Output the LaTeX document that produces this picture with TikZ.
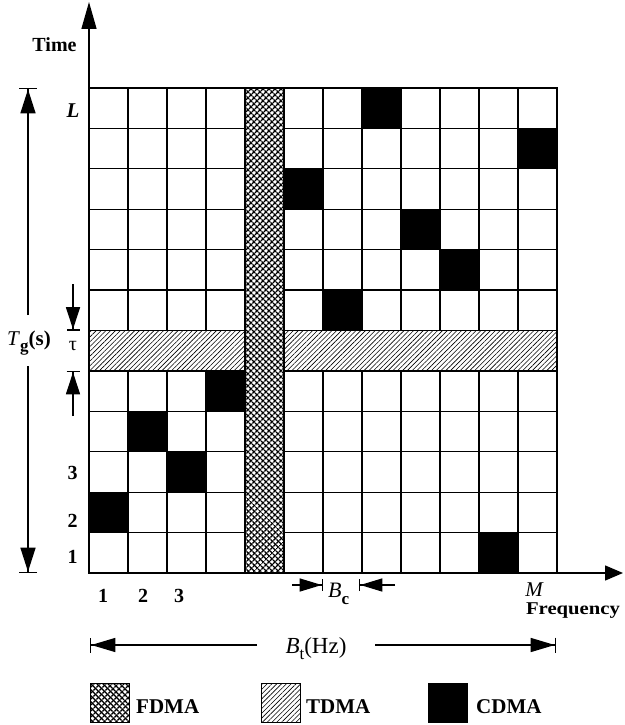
\documentclass[tikz,border=0pt]{standalone}
\usepackage{fontspec}
\setmainfont{Liberation Serif}
\usetikzlibrary{patterns.meta,arrows.meta}
\begin{document}
\begin{tikzpicture}[x=1pt,y=-1pt,
  cell/.style={draw=black,line width=1.3pt},
  cdma/.style={fill=black},
  fdma/.style={pattern={Lines[angle=45,distance=4pt,line width=1.4pt]},postaction={pattern={Lines[angle=-45,distance=4pt,line width=1.4pt]}}},
  tdma/.style={pattern={Lines[angle=45,distance=3.4pt,line width=0.6pt]}},
  txt/.style={inner sep=0pt,font=\fontsize{20}{24}\selectfont\bfseries},
  legtxt/.style={inner sep=0pt,font=\fontsize{21}{24}\selectfont\bfseries},
  num/.style={inner sep=0pt,font=\fontsize{20}{22}\selectfont\bfseries},
  axis/.style={line width=1.4pt},
  dim/.style={line width=1.3pt},
  key/.style={draw,line width=1.3pt,minimum width=39pt,minimum height=39pt,inner sep=0pt,anchor=north west},
]
\useasboundingbox (0,0) rectangle (624,725);
\def\cw{39}\def\rh{40.4167}
% cells
\foreach \c in {0,1,2,3,5,6,7,8,9,10,11}
  \foreach \r in {0,1,2,3,4,5,7,8,9,10,11}
    \draw[cell] ({89+\cw*\c},{88+\rh*\r}) rectangle ++(\cw,\rh);
\foreach \c/\r in {7/0,11/1,5/2,8/3,9/4,6/5,3/7,1/8,2/9,0/10,10/11}
    \draw[cell,cdma] ({89+\cw*\c},{88+\rh*\r}) rectangle ++(\cw,\rh);
% TDMA band
\draw[cell,tdma] (89,{88+6*\rh}) rectangle (557,{88+7*\rh});
% FDMA column
\draw[cell,fill=white] (245,88) rectangle (284,573);
\draw[cell,fdma] (245,88) rectangle (284,573);
% axes
\coordinate (O) at (89,573);
\coordinate (ytip) at (89,2);
\coordinate (xtip) at (623,573);
\draw[axis,-{Triangle[length=27pt,width=15pt]}] (O) -- (ytip);
\draw[axis,-{Triangle[length=18pt,width=15pt]}] (O) -- (xtip);
% Tg dimension
\coordinate (tgTop) at (28,88); \coordinate (tgBot) at (28,573);
\coordinate (tgA) at (28,315); \coordinate (tgB) at (28,366);
\draw[dim,-{Triangle[length=24pt,width=15pt]Bar[width=18pt]}] (tgA) -- (tgTop);
\draw[dim,-{Triangle[length=24pt,width=15pt]Bar[width=18pt]}] (tgB) -- (tgBot);
\node[anchor=base west,inner sep=0pt,font=\fontsize{21}{24}\selectfont] (tg) at (7,345)
  {\textit{T}\raisebox{-6pt}{\fontsize{17}{17}\selectfont\bfseries g}\textbf{(s)}};
% tau
\coordinate (tauA) at (73,284); \coordinate (tauTop) at (73,330.5);
\coordinate (tauB) at (73,416); \coordinate (tauBot) at (73,371);
\draw[dim,-{Triangle[length=22pt,width=14pt]Bar[width=13pt]}] (tauA) -- (tauTop);
\draw[dim,-{Triangle[length=22pt,width=14pt]Bar[width=13pt]}] (tauB) -- (tauBot);
\node[anchor=base,inner sep=0pt,font=\fontsize{20}{22}\selectfont] (tau) at (73,350) {τ};
% labels
\node[txt,anchor=base] (time) at (54.5,52) {Time};
\node[anchor=base,inner sep=0pt,font=\fontsize{21}{22}\selectfont\bfseries\itshape] (L) at (73,117) {L};
\node[num,anchor=base] (r3) at (72.5,479) {3};
\node[num,anchor=base] (r2) at (72.5,527) {2};
\node[num,anchor=base] (r1) at (72.5,563) {1};
\node[num,anchor=base] (c1) at (103,602) {1};
\node[num,anchor=base] (c2) at (143,602) {2};
\node[num,anchor=base] (c3) at (179,602) {3};
\node[anchor=base,inner sep=0pt,font=\fontsize{21}{22}\selectfont\itshape] (M) at (534,596) {M};
\node[anchor=base,inner sep=0pt,font=\fontsize{18}{22}\selectfont\bfseries] (freq) at (573,614) {\scalebox{1.15}[1]{Frequency}};
% Bc
\coordinate (bcA) at (292,585); \coordinate (bcL) at (323,585);
\coordinate (bcB) at (395,585); \coordinate (bcR) at (359,585);
\draw[dim,-{Triangle[length=22pt,width=13pt]Bar[width=12pt]}] (bcA) -- (bcL);
\draw[dim,-{Triangle[length=22pt,width=13pt]Bar[width=12pt]}] (bcB) -- (bcR);
\node[anchor=base west,inner sep=0pt,font=\fontsize{22}{24}\selectfont] (bc) at (328,597)
  {\textit{B}\raisebox{-7pt}{\fontsize{17}{17}\selectfont\bfseries c}};
% Bt
\coordinate (btA) at (257,645); \coordinate (btL) at (90,645);
\coordinate (btB) at (375,645); \coordinate (btR) at (556,645);
\draw[dim,-{Triangle[length=24pt,width=14pt]Bar[width=15pt]}] (btA) -- (btL);
\draw[dim,-{Triangle[length=24pt,width=14pt]Bar[width=15pt]}] (btB) -- (btR);
\node[anchor=base,inner sep=0pt,font=\fontsize{23}{24}\selectfont] (bt) at (316,653)
  {\textit{B}\raisebox{-6pt}{\fontsize{17}{17}\selectfont t}(Hz)};
% legend
\node[key,fdma] (fkey) at (90,683) {};
\node[legtxt,anchor=base west] (ftxt) at (136,713) {FDMA};
\node[key,tdma] (tkey) at (261,683) {};
\node[legtxt,anchor=base west] (ttxt) at (306,713) {TDMA};
\node[key,fill=black] (ckey) at (428,683) {};
\node[legtxt,anchor=base west] (ctxt) at (476,713) {CDMA};
\end{tikzpicture}
\end{document}
